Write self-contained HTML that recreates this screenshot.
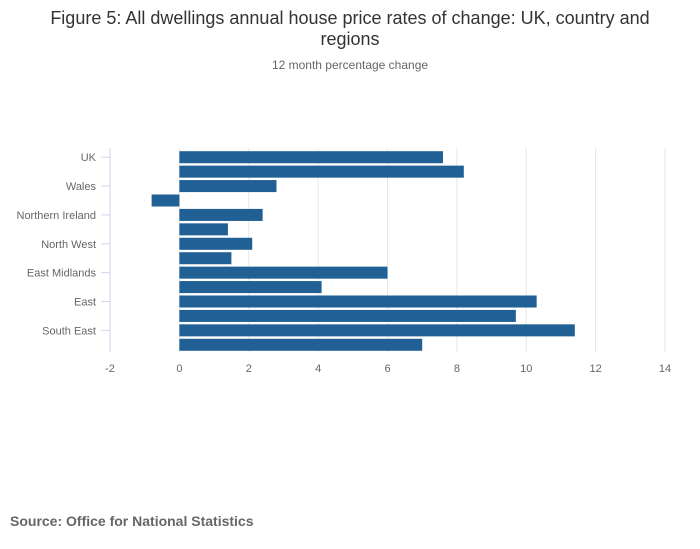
<!DOCTYPE html>
<html><head><meta charset="utf-8"><style>
body{margin:0;background:#fff;font-family:"Liberation Sans",sans-serif;}
#wrap{position:relative;width:700px;height:549px;overflow:hidden;}
</style></head><body>
<div id="wrap">
<svg id="chart" width="700" height="549">
<text x="350" y="24" text-anchor="middle" font-size="18" fill="#333">Figure 5: All dwellings annual house price rates of change: UK, country and</text>
<text x="350" y="45" text-anchor="middle" font-size="18" fill="#333">regions</text>
<text x="350" y="69" text-anchor="middle" font-size="12" fill="#666">12 month percentage change</text>
<text x="10" y="526" font-size="14" font-weight="bold" fill="#666">Source: Office for National Statistics</text>
</svg>
</div>
<script>
const categories=["UK","England","Wales","Scotland","Northern Ireland","North East","North West","Yorkshire and The Humber","East Midlands","West Midlands","East","London","South East","South West"];
const values=[7.6,8.2,2.8,-0.8,2.4,1.4,2.1,1.5,6.0,4.1,10.3,9.7,11.4,7.0];
const xTicks=[-2,0,2,4,6,8,10,12,14];
const NS="http://www.w3.org/2000/svg";
const svg=document.getElementById('chart');
const x0=110,x1=665,xmin=-2,xmax=14,plotTop=150,plotBottom=352;
const step=(plotBottom-plotTop)/categories.length;
function xs(v){return x0+(v-xmin)/(xmax-xmin)*(x1-x0);}
function ys(i){return plotTop+i*step;}
function mk(t,a){const e=document.createElementNS(NS,t);for(const k in a)e.setAttribute(k,a[k]);svg.appendChild(e);return e;}
xTicks.forEach(t=>{
 if(t>xmin){const g=mk('line',{x1:xs(t),x2:xs(t),y1:plotTop-2,y2:plotBottom,stroke:'#e6e6e6','stroke-width':1});
 
 }
 const l=mk('text',{x:xs(t),y:372,'text-anchor':'middle','font-size':11,fill:'#666'});
 l.textContent=t;
 
 
});
const ax=mk('line',{x1:x0,x2:x0,y1:plotTop-2,y2:plotBottom,stroke:'#ccd6eb','stroke-width':1});


categories.forEach((c,i)=>{
 const v=values[i];
 const b=mk('rect',{x:Math.min(xs(0),xs(v)),y:ys(i)+1.2,width:Math.abs(xs(v)-xs(0)),height:step-2.4,fill:'#206095'});
 
 
 if(i%2===0){
  const cy=ys(i)+step/2;
  const tk=mk('line',{x1:x0-9,x2:x0,y1:cy,y2:cy,stroke:'#ccd6eb'});
  
  
  const t=mk('text',{x:96,y:cy+4,'text-anchor':'end','font-size':11,fill:'#666'});
  t.textContent=c;
  
  
 }
});
</script>
</body></html>
